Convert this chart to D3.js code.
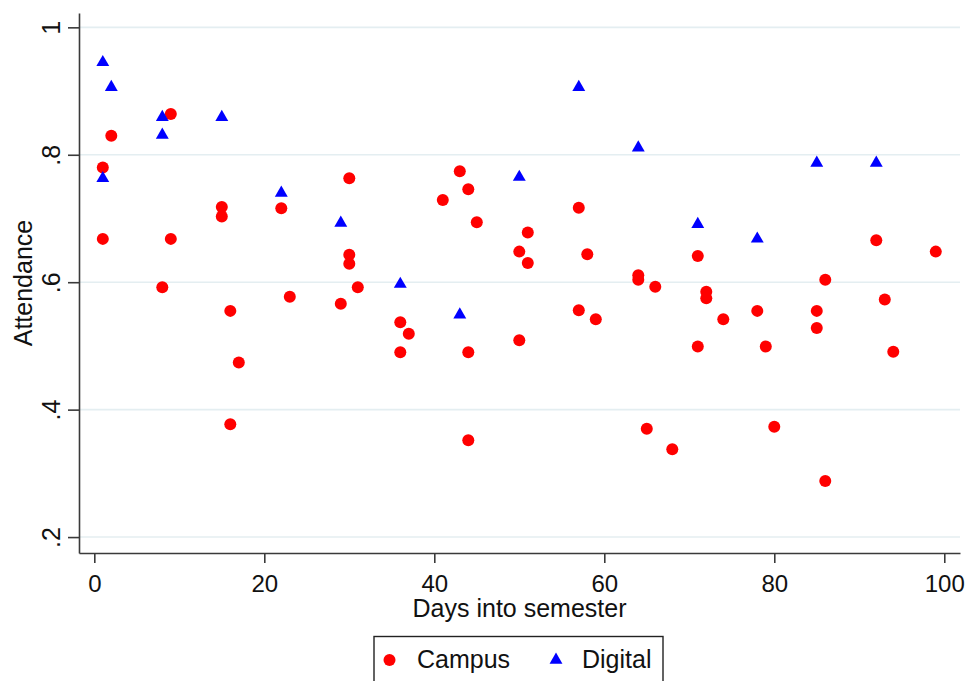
<!DOCTYPE html>
<html>
<head>
<meta charset="utf-8">
<script src="https://cdn.jsdelivr.net/npm/d3@7"></script>
<style>
  body { margin: 0; background: #fff; }
  text { font-family: "Liberation Sans", Arial, sans-serif; fill: #111; }
</style>
</head>
<body>
<svg id="chart" width="965" height="681"></svg>
<script>
// Campus sessions: day into semester and attendance share
const campusDays = [1, 1, 2, 8, 9, 9, 15, 15, 16, 16, 17, 22, 23, 29, 30, 30, 30, 31,
  36, 36, 37, 41, 43, 44, 44, 44, 45, 50, 50, 51, 51, 57, 57, 58, 59,
  64, 64, 65, 66, 68, 71, 71, 72, 72, 74, 78, 79, 80, 85, 85, 86, 86, 92, 93, 94, 99];
const campusAttendance = [0.780, 0.668, 0.830, 0.592, 0.864, 0.668, 0.718, 0.703, 0.555, 0.377, 0.474, 0.716, 0.577, 0.566, 0.763, 0.643, 0.629, 0.592,
  0.537, 0.490, 0.519, 0.729, 0.774, 0.746, 0.490, 0.352, 0.694, 0.648, 0.509, 0.678, 0.630, 0.717, 0.556, 0.644, 0.542,
  0.611, 0.604, 0.370, 0.593, 0.338, 0.641, 0.499, 0.585, 0.575, 0.542, 0.555, 0.499, 0.373, 0.555, 0.528, 0.604, 0.288, 0.666, 0.573, 0.491, 0.648];

// Digital sessions
const digitalDays = [1, 1, 2, 8, 8, 15, 22, 29, 36, 43, 50, 57, 64, 71, 78, 85, 92];
const digitalAttendance = [0.945, 0.763, 0.906, 0.859, 0.831, 0.859, 0.740, 0.693, 0.597, 0.549, 0.765, 0.906, 0.811, 0.691, 0.668, 0.787, 0.787];

// Axis ticks
const xTicks = [0, 20, 40, 60, 80, 100];
const yTicks = [0.2, 0.4, 0.6, 0.8, 1];
const yTickLabels = [".2", ".4", ".6", ".8", "1"];

const plot = { left: 79, right: 960, top: 13, bottom: 553 };

const svg = d3.select("#chart");

const x = d3.scaleLinear()
    .domain([-1.8, 101.85])
    .range([plot.left, plot.right]);

const y = d3.scaleLinear()
    .domain([0.175, 1.0225])
    .range([plot.bottom, plot.top]);

// Horizontal gridlines
svg.append("g")
    .selectAll("line")
    .data(yTicks)
    .enter().append("line")
    .attr("x1", plot.left)
    .attr("x2", plot.right)
    .attr("y1", d => y(d))
    .attr("y2", d => y(d))
    .attr("stroke", "#e4eef1")
    .attr("stroke-width", 1.6);

// Y axis
const yAxis = svg.append("g")
    .attr("transform", `translate(${plot.left},0)`)
    .call(d3.axisLeft(y)
        .tickValues(yTicks)
        .tickFormat((d, i) => yTickLabels[i])
        .tickSize(11)
        .tickSizeOuter(0));
yAxis.selectAll("text")
    .attr("transform", "rotate(-90)")
    .attr("x", 0)
    .attr("y", -19)
    .attr("dy", null)
    .attr("text-anchor", "middle")
    .style("font-size", "25px");

// X axis
const xAxis = svg.append("g")
    .attr("transform", `translate(0,${plot.bottom})`)
    .call(d3.axisBottom(x)
        .tickValues(xTicks)
        .tickSize(10)
        .tickSizeOuter(0));
xAxis.selectAll("text")
    .attr("y", 39)
    .attr("dy", null)
    .style("font-size", "24px");

svg.selectAll(".domain, .tick line")
    .attr("stroke", "#3a3a3a")
    .attr("stroke-width", 1.6);

// Axis titles
svg.append("text")
    .attr("transform", "rotate(-90)")
    .attr("x", -(plot.top + plot.bottom) / 2)
    .attr("y", 32)
    .attr("text-anchor", "middle")
    .style("font-size", "25px")
    .text("Attendance");

svg.append("text")
    .attr("x", (plot.left + plot.right) / 2)
    .attr("y", 617)
    .attr("text-anchor", "middle")
    .style("font-size", "25px")
    .text("Days into semester");

// Markers
const campus = campusDays.map((d, i) => ({ day: d, value: campusAttendance[i] }));
const digital = digitalDays.map((d, i) => ({ day: d, value: digitalAttendance[i] }));

svg.append("g")
    .selectAll("circle")
    .data(campus)
    .enter().append("circle")
    .attr("cx", d => x(d.day))
    .attr("cy", d => y(d.value))
    .attr("r", 6)
    .attr("fill", "#ff0000");

const triangle = d3.symbol().type(d3.symbolTriangle).size(72);

svg.append("g")
    .selectAll("path")
    .data(digital)
    .enter().append("path")
    .attr("d", triangle)
    .attr("transform", d => `translate(${x(d.day)},${y(d.value)})`)
    .attr("fill", "#0000ff");

// Legend
const legend = svg.append("g");
legend.append("rect")
    .attr("x", 374)
    .attr("y", 636.5)
    .attr("width", 289)
    .attr("height", 60)
    .attr("fill", "none")
    .attr("stroke", "#222")
    .attr("stroke-width", 1.4);
legend.append("circle")
    .attr("cx", 389.5)
    .attr("cy", 660)
    .attr("r", 6)
    .attr("fill", "#ff0000");
legend.append("text")
    .attr("x", 417)
    .attr("y", 668)
    .style("font-size", "25px")
    .text("Campus");
legend.append("path")
    .attr("d", triangle)
    .attr("transform", "translate(556,660)")
    .attr("fill", "#0000ff");
legend.append("text")
    .attr("x", 582)
    .attr("y", 668)
    .style("font-size", "25px")
    .text("Digital");
</script>
</body>
</html>
